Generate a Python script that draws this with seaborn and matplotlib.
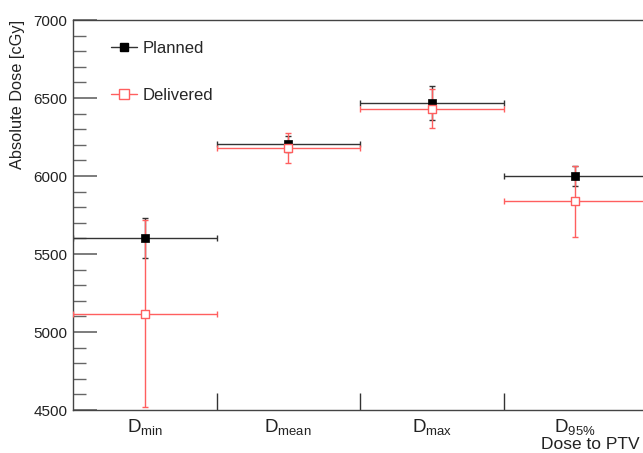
import numpy as np
import pandas as pd
import matplotlib
matplotlib.use("Agg")
import matplotlib.pyplot as plt
import seaborn as sns
from matplotlib.ticker import MultipleLocator, FixedLocator, NullFormatter
from matplotlib.lines import Line2D

categories = ["min", "mean", "max", "95\\%"]
planned = [5600, 6205, 6468, 6000]
planned_err = [128, 50, 112, 64]
delivered = [5118, 6178, 6430, 5838]
delivered_err = [598, 96, 125, 226]
series = ["Planned", "Delivered"]

sns.set_theme(style="ticks")
plt.rcParams["font.family"] = ["Liberation Sans", "DejaVu Sans"]
plt.rcParams["mathtext.fontset"] = "custom"
plt.rcParams["mathtext.rm"] = "Liberation Sans"
plt.rcParams["mathtext.it"] = "Liberation Sans"

fig = plt.figure(figsize=(6.43, 4.53), dpi=100)
ax = fig.add_axes([73 / 643, 43 / 453, 574 / 643, 390 / 453])

xpos = np.arange(len(categories)) + 0.5
df = pd.DataFrame({
    "x": np.concatenate([xpos, xpos]),
    "dose": planned + delivered,
    "err": planned_err + delivered_err,
    "series": [series[0]] * len(categories) + [series[1]] * len(categories),
})

red = "#ff5f5f"
dark = "#333333"
d_p = df[df.series == "Planned"]
d_d = df[df.series == "Delivered"]

ax.errorbar(d_p.x, d_p.dose, xerr=0.5, yerr=d_p.err, fmt="none", ecolor=dark,
            elinewidth=1.0, capsize=2.5, capthick=1.0, zorder=2)
ax.errorbar(d_d.x, d_d.dose, xerr=0.5, yerr=d_d.err, fmt="none", ecolor=red,
            elinewidth=1.0, capsize=2.5, capthick=1.0, zorder=3)
sns.scatterplot(data=d_p, x="x", y="dose", marker="s", s=34, color="black",
                edgecolor="black", linewidth=0.5, ax=ax, zorder=4, legend=False)
sns.scatterplot(data=d_d, x="x", y="dose", marker="s", s=38, color="white",
                edgecolor=red, linewidth=1.0, ax=ax, zorder=5, legend=False)

ax.set_xlim(0, len(categories))
ax.set_ylim(4500, 7000)

ax.yaxis.set_major_locator(MultipleLocator(500))
ax.yaxis.set_minor_locator(MultipleLocator(100))
ax.tick_params(axis="y", which="major", direction="in", length=17, width=1.2,
               color="#666666", labelsize=11, pad=4, labelcolor="#222222")
ax.tick_params(axis="y", which="minor", direction="in", length=9, width=1.0,
               color="#666666")

ax.xaxis.set_major_locator(FixedLocator(np.arange(1, len(categories))))
ax.xaxis.set_major_formatter(NullFormatter())
ax.xaxis.set_minor_locator(FixedLocator(xpos))
ax.set_xticklabels([r"$\mathrm{D_{%s}}$" % c for c in categories], minor=True)
ax.tick_params(axis="x", which="major", direction="in", length=12, width=1.0,
               color="#333333")
ax.tick_params(axis="x", which="minor", length=0, labelsize=13.5, pad=5,
               labelcolor="#222222")

for s in ax.spines.values():
    s.set_color("#444444")
    s.set_linewidth(1.0)

ax.set_ylabel("Absolute Dose [cGy]", fontsize=11.8, color="#222222", loc="top")
ax.yaxis.set_label_coords(-0.0836, 1.0)
ax.set_xlabel("Dose to PTV", fontsize=12.5, color="#222222")
ax.xaxis.set_label_coords((640 - 73) / 574, -0.068)
ax.xaxis.label.set_ha("right")
ax.xaxis.label.set_va("top")

h1 = Line2D([], [], color=dark, lw=1.0, marker="s", markersize=6,
            markerfacecolor="black", markeredgecolor="black")
h2 = Line2D([], [], color=red, lw=1.0, marker="s", markersize=6.5,
            markerfacecolor="white", markeredgecolor=red)
leg = ax.legend([h1, h2], series, loc="upper left",
                bbox_to_anchor=(0.04, 0.985), frameon=False, fontsize=12,
                labelspacing=1.9, handlelength=1.55, handletextpad=0.35)

fig.savefig("out.png", dpi=100)
